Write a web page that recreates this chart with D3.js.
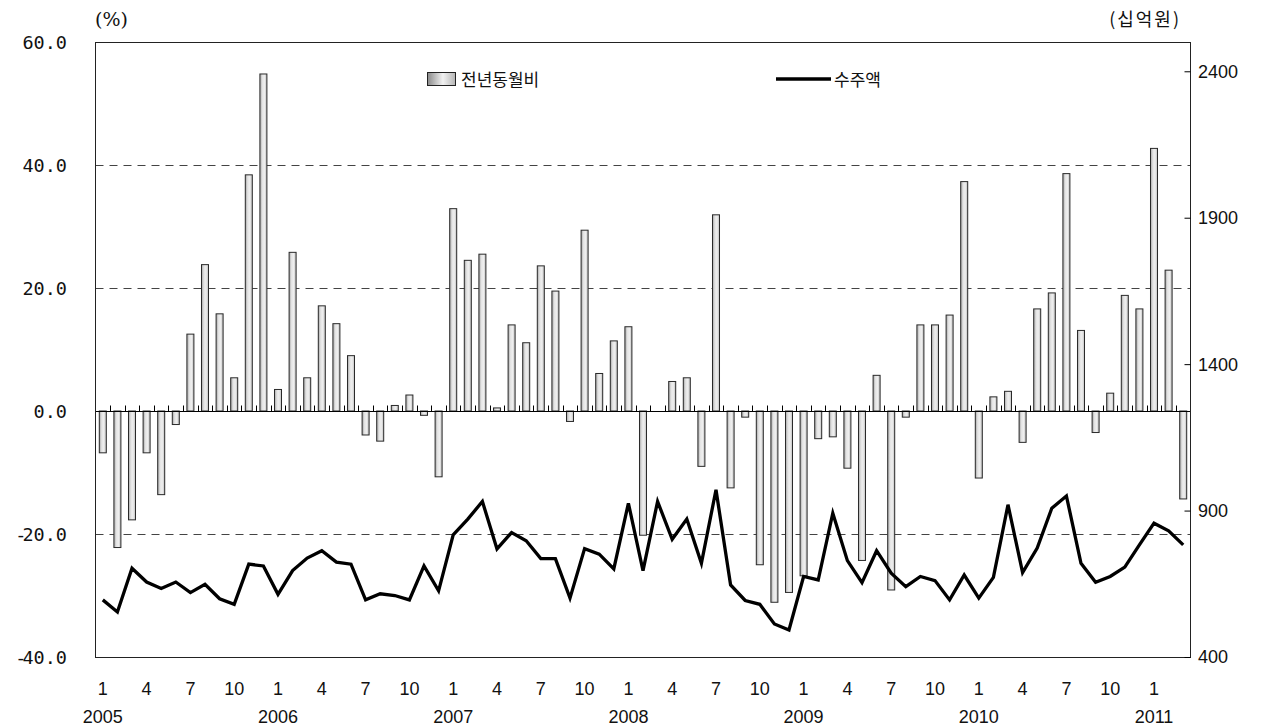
<!DOCTYPE html>
<html>
<head>
<meta charset="utf-8">
<script src="https://cdn.jsdelivr.net/npm/d3@7"></script>
<style>
  html, body { margin: 0; padding: 0; background: #fff; }
  svg { display: block; }
</style>
</head>
<body>
<svg id="chart" width="1266" height="728"></svg>
<script>
// ---------------- data ----------------
const years = [2005, 2006, 2007, 2008, 2009, 2010, 2011];
const categories = [
  "2005-01","2005-02","2005-03","2005-04","2005-05","2005-06","2005-07","2005-08","2005-09","2005-10","2005-11","2005-12",
  "2006-01","2006-02","2006-03","2006-04","2006-05","2006-06","2006-07","2006-08","2006-09","2006-10","2006-11","2006-12",
  "2007-01","2007-02","2007-03","2007-04","2007-05","2007-06","2007-07","2007-08","2007-09","2007-10","2007-11","2007-12",
  "2008-01","2008-02","2008-03","2008-04","2008-05","2008-06","2008-07","2008-08","2008-09","2008-10","2008-11","2008-12",
  "2009-01","2009-02","2009-03","2009-04","2009-05","2009-06","2009-07","2009-08","2009-09","2009-10","2009-11","2009-12",
  "2010-01","2010-02","2010-03","2010-04","2010-05","2010-06","2010-07","2010-08","2010-09","2010-10","2010-11","2010-12",
  "2011-01","2011-02","2011-03"
];
// 전년동월비 (%)
const yoyValues = [
  -6.8, -22.2, -17.7, -6.8, -13.6, -2.2, 12.5, 23.8, 15.8, 5.4, 38.4, 54.8,
  3.5, 25.8, 5.4, 17.1, 14.2, 9.0, -3.9, -4.9, 0.9, 2.6, -0.7, -10.7,
  32.9, 24.5, 25.5, 0.5, 14.0, 11.1, 23.6, 19.5, -1.7, 29.4, 6.1, 11.4,
  13.7, -20.2, 0.0, 4.8, 5.4, -9.0, 31.9, -12.5, -1.0, -25.0, -31.1, -29.5,
  -26.8, -4.5, -4.2, -9.3, -24.3, 5.8, -29.1, -1.0, 14.0, 14.0, 15.6, 37.3,
  -10.9, 2.3, 3.2, -5.1, 16.6, 19.2, 38.6, 13.1, -3.5, 2.9, 18.8, 16.6,
  42.7, 22.9, -14.3
];
// 수주액 (십억원)
const orderValues = [
  595, 554, 703, 656, 634, 656, 620, 648, 599, 580, 717, 711,
  614, 695, 738, 763, 724, 717, 595, 616, 610, 595, 711, 626,
  817, 871, 931, 769, 825, 797, 736, 736, 601, 770, 751, 701,
  925, 695, 931, 802, 871, 720, 971, 646, 593, 580, 513, 492,
  675, 663, 891, 729, 654, 763, 686, 640, 675, 661, 595, 680,
  601, 672, 920, 688, 772, 908, 950, 720, 655, 675, 707, 783,
  857, 831, 783
];
const leftTicks = [-40, -20, 0, 20, 40, 60];
const rightTicks = [400, 900, 1400, 1900, 2400];
const gridValues = [-20, 20, 40];
const monthLabelsShown = ["01", "04", "07", "10"];
const seriesNames = ["전년동월비", "수주액"];
const unitLeft = "(%)";
const unitRight = "(십억원)";

// ---------------- layout ----------------
const svg = d3.select("#chart");
const X0 = 95.5, X1 = 1190.5, Y0 = 42, Y1 = 657;

const x = d3.scaleBand().domain(categories).range([X0, X1]).paddingInner(0.52).paddingOuter(0.26);
const step = x.step();
const yL = d3.scaleLinear().domain([-40, 60]).range([Y1, Y0]);
const yR = d3.scaleLinear().domain([400, 2500]).range([Y1, Y0]);

const defs = svg.append("defs");
const grad = defs.append("linearGradient").attr("id", "barGrad")
  .attr("x1", "0%").attr("x2", "100%").attr("y1", "0%").attr("y2", "0%");
grad.append("stop").attr("offset", "0%").attr("stop-color", "#a6a6a6");
grad.append("stop").attr("offset", "35%").attr("stop-color", "#e4e4e4");
grad.append("stop").attr("offset", "65%").attr("stop-color", "#efefef");
grad.append("stop").attr("offset", "100%").attr("stop-color", "#bdbdbd");

const legGrad = defs.append("linearGradient").attr("id", "legGrad")
  .attr("x1", "0%").attr("x2", "100%").attr("y1", "0%").attr("y2", "0%");
legGrad.append("stop").attr("offset", "0%").attr("stop-color", "#8a8a8a");
legGrad.append("stop").attr("offset", "55%").attr("stop-color", "#f2f2f2");
legGrad.append("stop").attr("offset", "100%").attr("stop-color", "#b5b5b5");

// gridlines
svg.append("g").selectAll("line").data(gridValues).join("line")
  .attr("x1", X0).attr("x2", X1)
  .attr("y1", d => Math.round(yL(d)) + 0.5).attr("y2", d => Math.round(yL(d)) + 0.5)
  .attr("stroke", "#444").attr("stroke-width", 1).attr("stroke-dasharray", "8,6");

// bars
svg.append("g").selectAll("rect").data(categories).join("rect")
  .attr("x", (d) => x(d))
  .attr("width", x.bandwidth())
  .attr("y", (d, i) => yL(Math.max(0, yoyValues[i])))
  .attr("height", (d, i) => Math.abs(yL(yoyValues[i]) - yL(0)))
  .attr("fill", "url(#barGrad)")
  .attr("stroke", "#2a2a2a").attr("stroke-width", 1);

// zero line + category ticks
const zy = Math.round(yL(0)) + 0.5;
svg.append("line").attr("x1", X0).attr("x2", X1).attr("y1", zy).attr("y2", zy)
  .attr("stroke", "#000").attr("stroke-width", 1);
svg.append("g").selectAll("line").data(categories.slice(1)).join("line")
  .attr("x1", d => Math.round(x(d) - (step - x.bandwidth()) / 2) + 0.5)
  .attr("x2", d => Math.round(x(d) - (step - x.bandwidth()) / 2) + 0.5)
  .attr("y1", zy).attr("y2", zy - 6)
  .attr("stroke", "#000").attr("stroke-width", 1);

// line series
const line = d3.line()
  .x((d, i) => x(categories[i]) + x.bandwidth() / 2)
  .y(d => yR(d));
svg.append("path").datum(orderValues)
  .attr("d", line)
  .attr("fill", "none").attr("stroke", "#000").attr("stroke-width", 3.3)
  .attr("stroke-linejoin", "miter");

// frame
svg.append("rect").attr("x", X0).attr("y", Y0 + 0.5).attr("width", X1 - X0).attr("height", Y1 - Y0)
  .attr("fill", "none").attr("stroke", "#222").attr("stroke-width", 1);

// left axis labels (minus sign tucked close via per-glyph dx, single text element)
const leftAxis = d3.axisRight(yL).tickValues(leftTicks).tickSize(0).tickFormat("");
svg.append("g").attr("transform", `translate(${X0},0)`).call(leftAxis).call(g => g.select(".domain").remove());
svg.append("g").selectAll("text").data(leftTicks).join("text")
  .attr("x", 67).attr("y", d => yL(d))
  .attr("dy", "0.36em")
  .attr("dx", d => d < 0 ? "0 -4" : null)
  .attr("text-anchor", "end")
  .attr("font-family", "DejaVu Sans Mono")
  .attr("font-size", 18.5)
  .attr("fill", "#111")
  .text(d => (d < 0 ? "-" : "") + Math.abs(d).toFixed(1));

// right axis (ticks inside)
const rightAxis = d3.axisLeft(yR).tickValues(rightTicks).tickSize(6).tickFormat("");
svg.append("g").attr("transform", `translate(${X1},0)`).call(rightAxis)
  .call(g => g.select(".domain").remove())
  .call(g => g.selectAll("line").attr("stroke", "#000"));
svg.append("g").selectAll("text").data(rightTicks).join("text")
  .attr("x", 1198).attr("y", d => yR(d))
  .attr("dy", "0.36em")
  .attr("font-family", "Liberation Sans")
  .attr("font-size", 18)
  .attr("fill", "#111")
  .text(d => d);

// x labels
const shown = categories.filter(c => monthLabelsShown.includes(c.slice(5)));
svg.append("g").selectAll("text").data(shown).join("text")
  .attr("x", d => x(d) + x.bandwidth() / 2)
  .attr("y", 695)
  .attr("text-anchor", "middle")
  .attr("font-family", "Liberation Sans")
  .attr("font-size", 18)
  .attr("fill", "#111")
  .text(d => +d.slice(5));
svg.append("g").selectAll("text").data(years).join("text")
  .attr("x", d => x(d + "-01") + x.bandwidth() / 2)
  .attr("y", 723)
  .attr("text-anchor", "middle")
  .attr("font-family", "Liberation Sans")
  .attr("font-size", 18)
  .attr("fill", "#111")
  .text(d => d);

// units
svg.append("text").attr("x", 95).attr("y", 26)
  .attr("font-family", "DejaVu Serif").attr("font-size", 19).attr("fill", "#111")
  .text(unitLeft);
svg.append("text").attr("x", 1181).attr("y", 26).attr("text-anchor", "end")
  .attr("font-family", "Noto Sans CJK KR").attr("font-size", 18).attr("letter-spacing", 2).attr("fill", "#111")
  .text(unitRight);

// legend
const lg = svg.append("g");
lg.append("rect").attr("x", 427.5).attr("y", 72.5).attr("width", 28).attr("height", 13)
  .attr("fill", "url(#legGrad)").attr("stroke", "#222").attr("stroke-width", 1);
lg.append("text").attr("x", 461).attr("y", 86)
  .attr("font-family", "Noto Sans CJK KR").attr("font-size", 17).attr("fill", "#111")
  .text(seriesNames[0]);
lg.append("line").attr("x1", 776).attr("x2", 831).attr("y1", 79).attr("y2", 79)
  .attr("stroke", "#000").attr("stroke-width", 3.5);
lg.append("text").attr("x", 834).attr("y", 86)
  .attr("font-family", "Noto Sans CJK KR").attr("font-size", 17).attr("fill", "#111")
  .text(seriesNames[1]);
</script>
</body>
</html>
